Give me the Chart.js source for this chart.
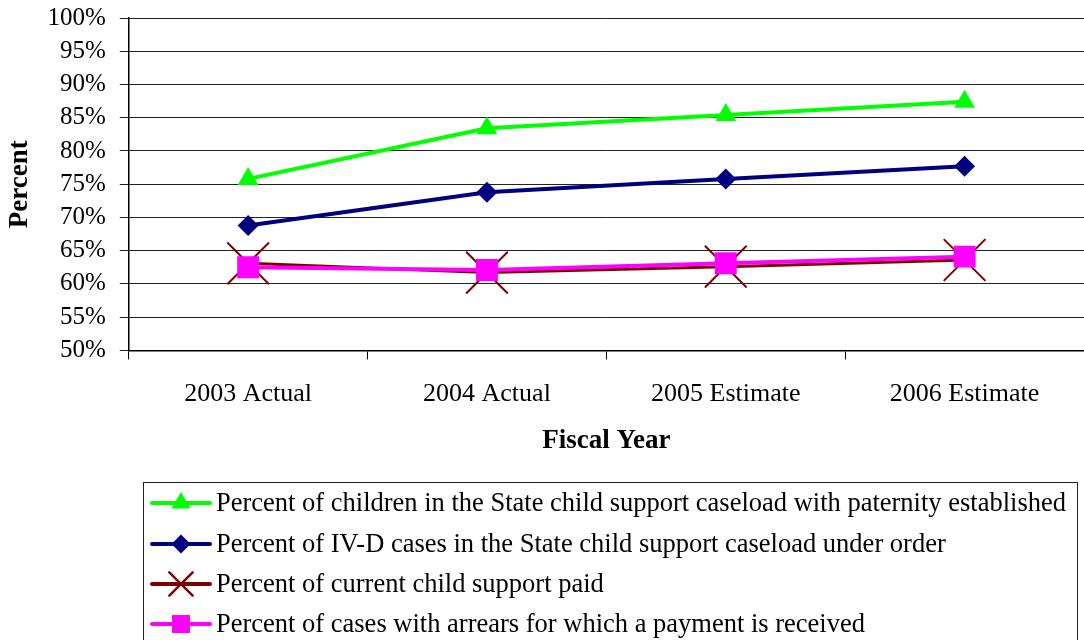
<!DOCTYPE html>
<html>
<head>
<meta charset="utf-8">
<script src="https://cdn.jsdelivr.net/npm/chart.js@4"></script>
<style>
html,body{margin:0;padding:0;background:#fff;overflow:hidden;}
#wrap{width:1084px;height:640px;position:relative;}
</style>
</head>
<body>
<div id="wrap"><canvas id="c" width="1084" height="640"></canvas></div>
<script>
const categories = ["2003 Actual", "2004 Actual", "2005 Estimate", "2006 Estimate"];
const paternity = [75.8, 83.4, 85.4, 87.4];
const underOrder = [68.8, 73.8, 75.8, 77.7];
const currentPaid = [63.1, 61.7, 62.6, 63.6];
const arrearsPaid = [62.5, 62.1, 63.1, 64.1];
const seriesLabels = [
  "Percent of children in the State child support caseload with paternity established",
  "Percent of IV-D cases in the State child support caseload under order",
  "Percent of current child support paid",
  "Percent of cases with arrears for which a payment is received"
];
const yMin = 50, yMax = 100, yStep = 5;

const FONT = "'Liberation Serif', 'Times New Roman', serif";

function drawMarker(ctx, style, x, y, r, color, lw) {
  ctx.save();
  ctx.fillStyle = color; ctx.strokeStyle = color; ctx.lineWidth = lw;
  ctx.beginPath();
  if (style === 'triangle') {
    for (let k = 0; k < 3; k++) {
      const a = -Math.PI/2 + k*2*Math.PI/3;
      const px = x + Math.cos(a)*r, py = y + Math.sin(a)*r;
      k ? ctx.lineTo(px, py) : ctx.moveTo(px, py);
    }
    ctx.closePath(); ctx.fill();
  } else if (style === 'rectRot') {
    ctx.moveTo(x, y-r); ctx.lineTo(x+r, y); ctx.lineTo(x, y+r); ctx.lineTo(x-r, y); ctx.closePath(); ctx.fill();
  } else if (style === 'rect') {
    const s = r*Math.SQRT1_2; ctx.rect(x-s, y-s, 2*s, 2*s); ctx.fill();
  } else if (style === 'crossRot') {
    const d = r*Math.SQRT1_2;
    ctx.moveTo(x-d, y-d); ctx.lineTo(x+d, y+d); ctx.moveTo(x+d, y-d); ctx.lineTo(x-d, y+d); ctx.stroke();
  }
  ctx.restore();
}

const legendPlugin = {
  id: 'boxLegend',
  afterDraw(chart) {
    const ctx = chart.ctx;
    ctx.save();
    ctx.strokeStyle = '#222'; ctx.lineWidth = 1;
    ctx.strokeRect(143.5, 482.5, 934, 200);
    const ys = [503, 544, 584, 624];
    const legendMarkerSize = [11, 9.5, 16.5, 12.7];
    chart.data.datasets.forEach((ds, i) => {
      const y = ys[i];
      ctx.strokeStyle = ds.borderColor; ctx.lineWidth = 4; ctx.lineCap = 'round';
      ctx.beginPath(); ctx.moveTo(152, y); ctx.lineTo(210, y); ctx.stroke();
      drawMarker(ctx, ds.pointStyle, 181, y, legendMarkerSize[i], ds.borderColor, 2.5);
      ctx.fillStyle = '#000'; ctx.font = '26.5px ' + FONT; ctx.textBaseline = 'middle'; ctx.textAlign = 'left';
      ctx.fillText(ds.label, 216, y + 1);
    });
    ctx.restore();
  }
};

new Chart(document.getElementById('c'), {
  type: 'line',
  data: {
    labels: categories,
    datasets: [
      { label: seriesLabels[0], data: paternity, borderColor: '#00FF00', backgroundColor: '#00FF00', borderWidth: 4, pointStyle: 'triangle', pointRadius: 12, pointBorderWidth: 0, order: 4 },
      { label: seriesLabels[1], data: underOrder, borderColor: '#000080', backgroundColor: '#000080', borderWidth: 4, pointStyle: 'rectRot', pointRadius: 10.5, pointBorderWidth: 0, order: 3 },
      { label: seriesLabels[2], data: currentPaid, borderColor: '#800000', backgroundColor: '#800000', borderWidth: 3, pointStyle: 'crossRot', pointRadius: 29.5, pointBorderWidth: 2, order: 2 },
      { label: seriesLabels[3], data: arrearsPaid, borderColor: '#FF00FF', backgroundColor: '#FF00FF', borderWidth: 4, pointStyle: 'rect', pointRadius: 15.5, pointBorderWidth: 0, order: 1 }
    ]
  },
  options: {
    responsive: false,
    animation: false,
    layout: { autoPadding: false, padding: { top: 18, right: 0, left: 0, bottom: 183 } },
    plugins: { legend: { display: false }, tooltip: { enabled: false } },
    elements: { line: { tension: 0 } },
    scales: {
      x: {
        offset: true,
        afterFit: s => { s.paddingLeft = 0; s.paddingRight = 0; },
        grid: { offset: true, drawOnChartArea: false, drawTicks: true, tickLength: 9, color: '#000' },
        border: { color: '#000', width: 1.5 },
        ticks: { color: '#000', font: { family: FONT, size: 26 }, padding: 19, maxRotation: 0, autoSkip: false },
        title: { display: true, text: 'Fiscal Year', color: '#000', font: { family: FONT, size: 27, weight: 'bold' }, padding: { top: -4, bottom: 0 } }
      },
      y: {
        min: yMin, max: yMax,
        afterFit: s => { s.paddingTop = 0; s.paddingBottom = 0; },
        grid: { color: '#222', lineWidth: 1, tickLength: 9 },
        border: { color: '#000', width: 1.5 },
        ticks: { stepSize: yStep, autoSkip: false, color: '#000', font: { family: FONT, size: 25 }, padding: 14, callback: v => v + '%' },
        title: { display: true, text: 'Percent', color: '#000', font: { family: FONT, size: 27, weight: 'bold' }, padding: { top: 4, bottom: -3 } }
      }
    }
  },
  plugins: [legendPlugin]
});
</script>
</body>
</html>
